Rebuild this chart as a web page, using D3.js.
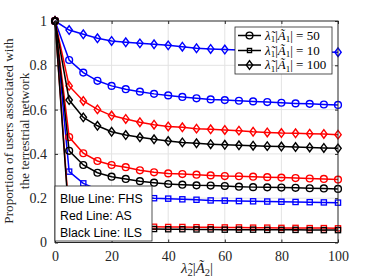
<!DOCTYPE html>
<html><head><meta charset="utf-8">
<script src="https://cdn.jsdelivr.net/npm/d3@7"></script>
<style>
html,body{margin:0;padding:0;background:#fff;}
svg{display:block;}
</style></head>
<body>
<svg id="chart" width="374" height="280"></svg>
<script>
const xVals = [0,5,10,15,20,25,30,35,40,45,50,55,60,65,70,75,80,85,90,95,100];
const xTicks = [0,20,40,60,80,100];
const yTicks = [0,0.2,0.4,0.6,0.8,1];
const yTickLabels = ["0","0.2","0.4","0.6","0.8","1"];

const fhs100 = [1,0.959,0.940,0.922,0.910,0.904,0.899,0.895,0.890,0.884,0.877,0.874,0.871,0.869,0.867,0.866,0.864,0.863,0.862,0.860,0.859];
const fhs50  = [1,0.824,0.767,0.730,0.707,0.692,0.681,0.671,0.664,0.657,0.651,0.646,0.643,0.640,0.637,0.634,0.631,0.628,0.626,0.623,0.621];
const fhs10  = [1,0.320,0.267,0.240,0.225,0.213,0.205,0.200,0.198,0.195,0.193,0.190,0.189,0.187,0.186,0.185,0.184,0.183,0.182,0.181,0.180];
const as100  = [1,0.707,0.639,0.601,0.573,0.558,0.543,0.532,0.524,0.520,0.514,0.511,0.508,0.505,0.500,0.497,0.494,0.493,0.491,0.490,0.487];
const as50   = [1,0.476,0.403,0.368,0.350,0.340,0.326,0.317,0.312,0.309,0.306,0.303,0.300,0.299,0.297,0.295,0.293,0.291,0.289,0.287,0.284];
const as10   = [1,0.120,0.090,0.082,0.078,0.075,0.073,0.071,0.070,0.070,0.069,0.069,0.068,0.068,0.067,0.067,0.066,0.066,0.065,0.065,0.064];
const ils100 = [1,0.643,0.565,0.527,0.500,0.485,0.475,0.466,0.458,0.452,0.448,0.444,0.441,0.439,0.437,0.435,0.433,0.431,0.429,0.427,0.425];
const ils50  = [1,0.414,0.350,0.315,0.297,0.287,0.277,0.270,0.264,0.261,0.258,0.257,0.255,0.252,0.250,0.249,0.248,0.247,0.245,0.244,0.242];
const ils10  = [1,0.100,0.075,0.068,0.065,0.063,0.062,0.061,0.060,0.060,0.059,0.059,0.058,0.058,0.058,0.057,0.057,0.057,0.056,0.056,0.056];

const legendValues = ["50","10","100"];
const legendMarkers = ["circle","square","diamond"];
const methodLegend = ["Blue Line: FHS","Red Line: AS","Black Line: ILS"];

const series = [
  {v: fhs100, c: "#0000ff", m: "diamond"},
  {v: fhs50,  c: "#0000ff", m: "circle"},
  {v: fhs10,  c: "#0000ff", m: "square"},
  {v: as100,  c: "#ff0000", m: "diamond"},
  {v: as50,   c: "#ff0000", m: "circle"},
  {v: as10,   c: "#ff0000", m: "square"},
  {v: ils100, c: "#000000", m: "diamond"},
  {v: ils50,  c: "#000000", m: "circle"},
  {v: ils10,  c: "#000000", m: "square"}
];

const svg = d3.select("#chart");
const L = 55, R = 338, T = 21, B = 242.5;
const x = d3.scaleLinear().domain([0,100]).range([L,R]);
const y = d3.scaleLinear().domain([0,1]).range([B,T]);
const serif = "'Liberation Serif','Times New Roman',serif";

// grid
const grid = svg.append("g");
grid.selectAll(".gx").data(xTicks.slice(1,-1)).enter().append("line")
  .attr("x1", d=>x(d)).attr("x2", d=>x(d)).attr("y1", T).attr("y2", B)
  .attr("stroke", "#e3e3e3").attr("stroke-width", 1);
grid.selectAll(".gy").data(yTicks.slice(1,-1)).enter().append("line")
  .attr("y1", d=>y(d)).attr("y2", d=>y(d)).attr("x1", L).attr("x2", R)
  .attr("stroke", "#e3e3e3").attr("stroke-width", 1);

// markers
function drawMarker(g, type, cx, cy, color, s) {
  s = s || 1;
  if (type === "circle") {
    g.append("circle").attr("cx", cx).attr("cy", cy).attr("r", 3.4*s)
      .attr("fill", "none").attr("stroke", color).attr("stroke-width", 1.4);
  } else if (type === "square") {
    g.append("rect").attr("x", cx-2.6*s).attr("y", cy-2.6*s).attr("width", 5.2*s).attr("height", 5.2*s)
      .attr("fill", "none").attr("stroke", color).attr("stroke-width", 1.3);
  } else {
    const r = 4.3*s, w = 3.2*s;
    g.append("path").attr("d", `M${cx},${cy-r}L${cx+w},${cy}L${cx},${cy+r}L${cx-w},${cy}Z`)
      .attr("fill", "none").attr("stroke", color).attr("stroke-width", 1.4);
  }
}

const line = d3.line().x((d,i)=>x(xVals[i])).y(d=>y(d));
const plot = svg.append("g");
series.forEach(s => {
  const g = plot.append("g");
  g.append("path").datum(s.v).attr("d", line).attr("fill","none")
    .attr("stroke", s.c).attr("stroke-width", 1.5);
  s.v.forEach((v,i) => drawMarker(g, s.m, x(xVals[i]), y(v), s.c));
});

// axes box
const axc = "#262626";
svg.append("rect").attr("x", L).attr("y", T).attr("width", R-L).attr("height", B-T)
  .attr("fill","none").attr("stroke", axc).attr("stroke-width", 1);

const xAxis = d3.axisBottom(x).tickValues(xTicks).tickSize(-3).tickPadding(9).tickFormat(d3.format("d"));
const gx = svg.append("g").attr("transform", `translate(0,${B})`).call(xAxis);
const gxTop = svg.append("g").attr("transform", `translate(0,${T})`).call(d3.axisTop(x).tickValues(xTicks).tickSize(-3).tickFormat(""));
const yAxis = d3.axisLeft(y).tickValues(yTicks).tickSize(-3).tickPadding(8).tickFormat((d,i)=>yTickLabels[i]);
const gy = svg.append("g").attr("transform", `translate(${L},0)`).call(yAxis);
const gyR = svg.append("g").attr("transform", `translate(${R},0)`).call(d3.axisRight(y).tickValues(yTicks).tickSize(-3).tickFormat(""));
[gx,gxTop,gy,gyR].forEach(g => {
  g.select(".domain").remove();
  g.selectAll(".tick line").attr("stroke", axc);
  g.selectAll("text").attr("font-family", serif).attr("font-size", 14).attr("fill", axc);
});

// y label
const yl = svg.append("text").attr("transform", "translate(13,131) rotate(-90)")
  .attr("text-anchor","middle").attr("font-family", serif).attr("font-size", 13.2).attr("fill", axc);
yl.append("tspan").attr("x",0).attr("dy",0).text("Proportion of users associated with");
yl.append("tspan").attr("x",0).attr("dy",15.5).text("the terrestrial network");

// x label
const xl = svg.append("text").attr("x", 197).attr("y", 273).attr("text-anchor","middle")
  .attr("font-family", serif).attr("font-size", 15).attr("fill", axc);
xl.append("tspan").attr("font-style","italic").text("λ\u0303");
xl.append("tspan").attr("font-size", 10.5).attr("dy", 3).text("2");
xl.append("tspan").attr("dy", -3).text("|");
xl.append("tspan").attr("font-style","italic").text("A\u0303");
xl.append("tspan").attr("font-size", 10.5).attr("dy", 3).text("2");
xl.append("tspan").attr("dy", -3).text("|");

// legend 1
const lg = svg.append("g");
lg.append("rect").attr("x", 235).attr("y", 27).attr("width", 97).attr("height", 47)
  .attr("fill","#fff").attr("stroke","#262626").attr("stroke-width",0.8);
const ly = [35.5, 50.5, 65];
legendValues.forEach((val,i) => {
  lg.append("line").attr("x1",238).attr("x2",261).attr("y1",ly[i]).attr("y2",ly[i])
    .attr("stroke","#000").attr("stroke-width",1.5);
  drawMarker(lg, legendMarkers[i], 249.5, ly[i], "#000", legendMarkers[i]==="square"?0.8:1);
  const t = lg.append("text").attr("x", 265).attr("y", ly[i]+4).attr("font-family", serif)
    .attr("font-size", 13).attr("fill","#000");
  t.append("tspan").attr("font-style","italic").text("λ\u0303");
  t.append("tspan").attr("font-size", 9).attr("dy", 2.5).text("1");
  t.append("tspan").attr("dy", -2.5).text("|");
  t.append("tspan").attr("font-style","italic").text("A\u0303");
  t.append("tspan").attr("font-size", 9).attr("dy", 2.5).text("1");
  t.append("tspan").attr("dy", -2.5).text("| = " + val);
});

// legend 2
const lg2 = svg.append("g");
lg2.append("rect").attr("x", 55).attr("y", 186).attr("width", 97).attr("height", 55)
  .attr("fill","#fff").attr("stroke","#262626").attr("stroke-width",0.8);
methodLegend.forEach((t,i) => {
  lg2.append("text").attr("x", 60).attr("y", 202.5 + i*17)
    .attr("font-family","'Liberation Sans',Arial,sans-serif").attr("font-size", 12.3)
    .attr("fill","#000").text(t);
});
</script>
</body></html>
